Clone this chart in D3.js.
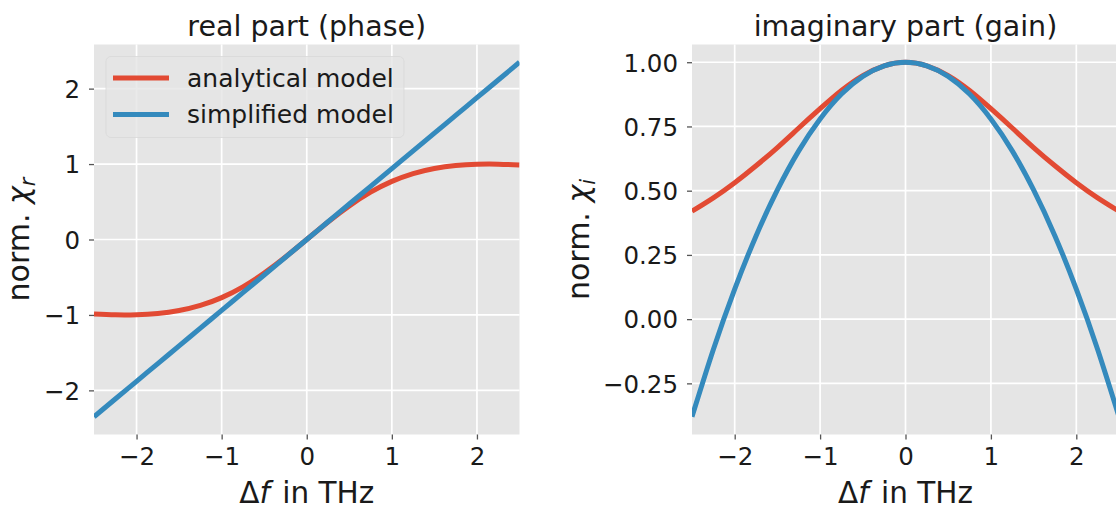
<!DOCTYPE html>
<html>
<head>
<meta charset="utf-8">
<script src="https://cdn.jsdelivr.net/npm/d3@7"></script>
<style>
  html, body { margin: 0; padding: 0; background: #ffffff; }
  svg { display: block; }
  text { font-family: "DejaVu Sans", sans-serif; fill: #1a1a1a; }
</style>
</head>
<body>
<svg id="chart" width="1116" height="509"></svg>
<script>
// Detuning grid (THz)
const detuning = [-2.5, -2.25, -2, -1.75, -1.5, -1.25, -1, -0.75, -0.5, -0.25, 0,
                  0.25, 0.5, 0.75, 1, 1.25, 1.5, 1.75, 2, 2.25, 2.5];

// Real part (phase response), normalised
const realAnalytical = [-0.987, -0.999, -0.998, -0.981, -0.942, -0.874, -0.770, -0.627, -0.445, -0.232, 0,
                        0.232, 0.445, 0.627, 0.770, 0.874, 0.942, 0.981, 0.998, 0.999, 0.987];
const realSimplified = [-2.35, -2.115, -1.88, -1.645, -1.41, -1.175, -0.94, -0.705, -0.47, -0.235, 0,
                        0.235, 0.47, 0.705, 0.94, 1.175, 1.41, 1.645, 1.88, 2.115, 2.35];

// Imaginary part (gain response), normalised
const imagAnalytical = [0.420, 0.472, 0.531, 0.597, 0.668, 0.744, 0.819, 0.890, 0.948, 0.986, 1.0,
                        0.986, 0.948, 0.890, 0.819, 0.744, 0.668, 0.597, 0.531, 0.472, 0.420];
const imagSimplified = [-0.380, -0.118, 0.117, 0.324, 0.503, 0.655, 0.779, 0.876, 0.945, 0.986, 1.0,
                        0.986, 0.945, 0.876, 0.779, 0.655, 0.503, 0.324, 0.117, -0.118, -0.380];

const seriesNames = ["analytical model", "simplified model"];
const seriesColors = ["#E24A33", "#348ABD"];

const xTicks = [-2, -1, 0, 1, 2];
const realTicks = [-2, -1, 0, 1, 2];
const imagTicks = [-0.25, 0, 0.25, 0.5, 0.75, 1.0];

const svg = d3.select("#chart");

function panel(cfg) {
  const { left, right, top, bottom, yDomain, yTicks, yFormat, series, title, ySub, ylabX, clipId } = cfg;
  const x = d3.scaleLinear().domain([-2.5, 2.5]).range([left, right]);
  const y = d3.scaleLinear().domain(yDomain).range([bottom, top]);

  const g = svg.append("g");
  g.append("rect")
    .attr("x", left).attr("y", top)
    .attr("width", right - left).attr("height", bottom - top)
    .attr("fill", "#E5E5E5");

  // white grid
  g.append("g").selectAll("line.vx").data(xTicks).join("line")
    .attr("x1", d => x(d)).attr("x2", d => x(d))
    .attr("y1", top).attr("y2", bottom)
    .attr("stroke", "#ffffff").attr("stroke-width", 1.7);
  g.append("g").selectAll("line.hy").data(yTicks).join("line")
    .attr("x1", left).attr("x2", right)
    .attr("y1", d => y(d)).attr("y2", d => y(d))
    .attr("stroke", "#ffffff").attr("stroke-width", 1.7);

  // axes
  const xAxis = d3.axisBottom(x).tickValues(xTicks).tickSize(5).tickPadding(6)
    .tickFormat(d => d3.format("d")(d).replace("-", "\u2212"));
  const gx = g.append("g").attr("transform", `translate(0,${bottom})`).call(xAxis);
  gx.select(".domain").remove();
  gx.selectAll(".tick line").attr("stroke", "#555555").attr("stroke-width", 1.3);
  gx.selectAll(".tick text").style("font-family", "DejaVu Sans").style("font-size", "24.5px")
    .attr("fill", "#1a1a1a").attr("dy", "0.78em");

  const yAxis = d3.axisLeft(y).tickValues(yTicks).tickSize(5).tickPadding(9)
    .tickFormat(d => yFormat(d).replace("-", "\u2212"));
  const gy = g.append("g").attr("transform", `translate(${left},0)`).call(yAxis);
  gy.select(".domain").remove();
  gy.selectAll(".tick line").attr("stroke", "#555555").attr("stroke-width", 1.3);
  gy.selectAll(".tick text").style("font-family", "DejaVu Sans").style("font-size", "24.5px")
    .attr("fill", "#1a1a1a").attr("dy", "0.36em");

  // curves
  svg.append("clipPath").attr("id", clipId).append("rect")
    .attr("x", left).attr("y", top).attr("width", right - left).attr("height", bottom - top);
  const line = d3.line().x(d => x(d[0])).y(d => y(d[1])).curve(d3.curveNatural);
  series.forEach((vals, i) => {
    g.append("path")
      .datum(detuning.map((xv, k) => [xv, vals[k]]))
      .attr("d", line)
      .attr("fill", "none")
      .attr("stroke", seriesColors[i])
      .attr("stroke-width", 5)
      .attr("clip-path", `url(#${clipId})`);
  });

  // title
  g.append("text")
    .attr("x", (left + right) / 2).attr("y", 36)
    .attr("text-anchor", "middle")
    .style("font-size", "28.5px")
    .text(title);

  // x label: Δf in THz
  const xl = g.append("text")
    .attr("x", x(0)).attr("y", 503)
    .attr("text-anchor", "middle")
    .style("font-size", "29.5px");
  xl.append("tspan").text("\u0394");
  xl.append("tspan").style("font-style", "italic").text("f");
  xl.append("tspan").attr("dx", 3).text(" in THz");

  // y label: norm. χ_sub
  const yl = g.append("text")
    .attr("transform", `translate(${ylabX},${(top + bottom) / 2}) rotate(-90)`)
    .attr("text-anchor", "middle")
    .style("font-size", "30px");
  yl.append("tspan").text("norm. ");
  yl.append("tspan").style("font-style", "italic").text("\u03C7");
  yl.append("tspan").style("font-style", "italic").style("font-size", "21px")
    .attr("dy", "6").text(ySub);

  return { x, y, g };
}

const left = panel({
  left: 94, right: 519.5, top: 44.5, bottom: 434.5,
  yDomain: [-2.585, 2.585], yTicks: realTicks, yFormat: d3.format("d"),
  series: [realAnalytical, realSimplified],
  title: "real part (phase)", ySub: "r", ylabX: 29, clipId: "clipReal"
});

panel({
  left: 692, right: 1119, top: 44.5, bottom: 434.5,
  yDomain: [-0.449, 1.069], yTicks: imagTicks, yFormat: d3.format(".2f"),
  series: [imagAnalytical, imagSimplified],
  title: "imaginary part (gain)", ySub: "i", ylabX: 589, clipId: "clipImag"
});

// legend in the phase panel
const leg = left.g.append("g");
leg.append("rect")
  .attr("x", 106).attr("y", 56.5).attr("width", 298).attr("height", 81).attr("rx", 5)
  .attr("fill", "#E5E5E5").attr("fill-opacity", 0.8)
  .attr("stroke", "#D8D8D8").attr("stroke-opacity", 0.8).attr("stroke-width", 1);
seriesNames.forEach((name, i) => {
  const cy = 78 + i * 36.5;
  leg.append("line")
    .attr("x1", 113).attr("x2", 169).attr("y1", cy).attr("y2", cy)
    .attr("stroke", seriesColors[i]).attr("stroke-width", 5);
  leg.append("text")
    .attr("x", 187).attr("y", cy).attr("dy", "0.35em")
    .style("font-size", "25px")
    .text(name);
});
</script>
</body>
</html>
